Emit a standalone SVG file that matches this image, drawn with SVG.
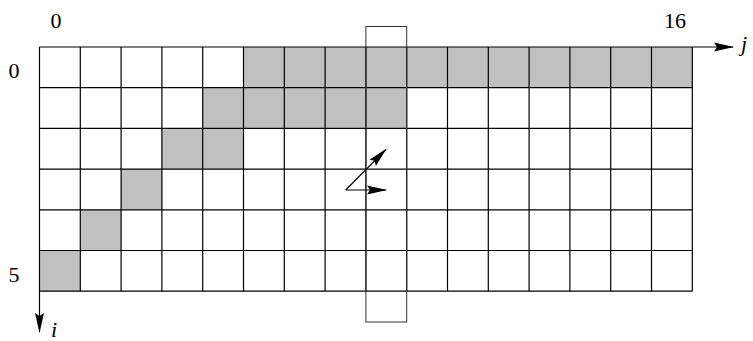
<svg xmlns="http://www.w3.org/2000/svg" width="753" height="341" viewBox="0 0 753 341">
<defs>
<style>
.g{fill:#c0c0c0;stroke:none}
.ln{stroke:#000;stroke-width:1.2;fill:none}
</style>
<marker id="ah" viewBox="0 0 20 10" refX="19" refY="5" markerWidth="20" markerHeight="10" markerUnits="userSpaceOnUse" orient="auto">
<path d="M0,0.5 L20,5 L0,9.5 L3,5 Z" fill="#000"/>
</marker>
</defs>
<rect width="753" height="341" fill="#fff"/>
<g id="shaded">
<rect class="g" x="243.5" y="47" width="448.8" height="40.7"/>
<rect class="g" x="202.7" y="87.7" width="204" height="40.7"/>
<rect class="g" x="161.9" y="128.4" width="81.6" height="40.7"/>
<rect class="g" x="121.1" y="169.1" width="40.8" height="40.7"/>
<rect class="g" x="80.3" y="209.8" width="40.8" height="40.7"/>
<rect class="g" x="39.5" y="250.5" width="40.8" height="40.7"/>
</g>
<g id="grid" class="ln">
<path d="M39.5,47H692.3M39.5,87.7H692.3M39.5,128.4H692.3M39.5,169.1H692.3M39.5,209.8H692.3M39.5,250.5H692.3M39.5,291.2H692.3"/>
<path d="M39.5,47V291.2M80.3,47V291.2M121.1,47V291.2M161.9,47V291.2M202.7,47V291.2M243.5,47V291.2M284.3,47V291.2M325.1,47V291.2M365.9,47V291.2M406.7,47V291.2M447.5,47V291.2M488.3,47V291.2M529.1,47V291.2M569.9,47V291.2M610.7,47V291.2M651.5,47V291.2M692.3,47V291.2"/>
</g>
<rect id="column" x="365.9" y="26.5" width="40.8" height="295.5" fill="none" stroke="#333" stroke-width="1"/>
<g id="arrows" class="ln">
<line x1="692.3" y1="47" x2="733" y2="47" marker-end="url(#ah)"/>
<line x1="39.5" y1="291.2" x2="39.5" y2="332" marker-end="url(#ah)"/>
<line x1="345.7" y1="190" x2="386" y2="190" marker-end="url(#ah)"/>
<line x1="345.7" y1="190" x2="386" y2="149.3" marker-end="url(#ah)"/>
</g>
<g id="labels" font-family="Liberation Serif, Times New Roman, serif" font-size="22" fill="#000">
<text x="56" y="28" text-anchor="middle">0</text>
<text x="675" y="28" text-anchor="middle">16</text>
<text x="14" y="78" text-anchor="middle">0</text>
<text x="14" y="282" text-anchor="middle">5</text>
<text x="741" y="51" font-style="italic">j</text>
<text x="51" y="337" font-style="italic">i</text>
</g>
</svg>
